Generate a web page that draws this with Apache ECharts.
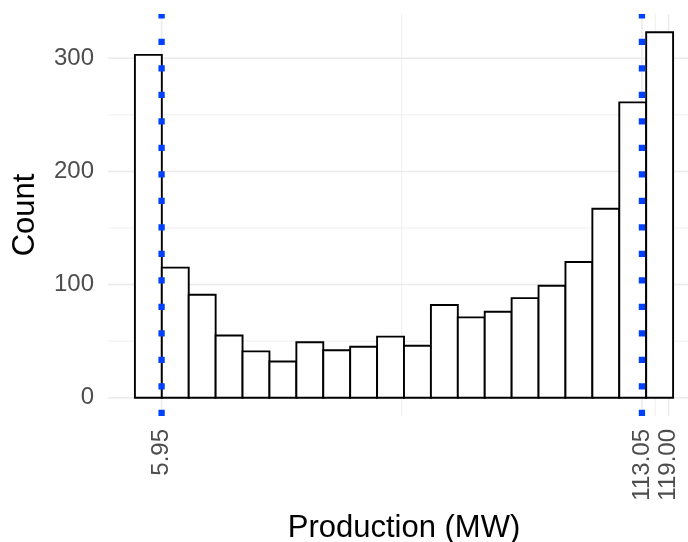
<!DOCTYPE html>
<html>
<head>
<meta charset="utf-8">
<script src="https://cdn.jsdelivr.net/npm/echarts@6/dist/echarts.min.js"></script>
<style>
  html, body { margin: 0; padding: 0; background: #fff; }
  #chart { width: 688px; height: 542px; }
</style>
</head>
<body>
<div id="chart"></div>
<script>
// Histogram of hourly production, bins of 6 MW
const binEdges = [0, 6, 12, 18, 24, 30, 36, 42, 48, 54, 60, 66, 72, 78, 84, 90, 96, 102, 108, 114, 120];
const counts = [303, 115, 91, 55, 41, 32, 49, 42, 45, 54, 46, 82, 71, 76, 88, 99, 120, 167, 261, 323];

// Reference lines (lower / upper thresholds)
const refLines = [5.95, 113.05];

// Tick labels
const xTicks = [5.95, 113.05, 119.00];
const xMinorGrid = [59.5, 116.025];
const yTicks = [0, 100, 200, 300];
const yMinorGrid = [50, 150, 250];

const X_MIN = -6, X_MAX = 126;
const Y_MIN = -16.15, Y_MAX = 339.15;

const FONT = '"Liberation Sans", Arial, sans-serif';
const GRID_COLOR = '#EBEBEB';

function gridLines(values, horizontal, width) {
  return {
    type: 'custom',
    silent: true,
    clip: false,
    z: 1,
    data: values.map(v => horizontal ? [X_MIN, v] : [v, Y_MIN]),
    encode: { x: 0, y: 1 },
    renderItem: function (params, api) {
      const a = api.value(0), b = api.value(1);
      const p1 = horizontal ? api.coord([X_MIN, b]) : api.coord([a, Y_MIN]);
      const p2 = horizontal ? api.coord([X_MAX, b]) : api.coord([a, Y_MAX]);
      return {
        type: 'line',
        shape: { x1: p1[0], y1: p1[1], x2: p2[0], y2: p2[1] },
        style: { stroke: GRID_COLOR, lineWidth: width }
      };
    }
  };
}

const bars = counts.map((c, i) => [binEdges[i], binEdges[i + 1], c]);

const chart = echarts.init(document.getElementById('chart'), null, { renderer: 'canvas' });

chart.setOption({
  animation: false,
  backgroundColor: '#ffffff',
  grid: { left: 108, top: 14, width: 592, height: 402, outerBoundsMode: 'none', containLabel: false },
  xAxis: {
    type: 'value',
    min: X_MIN,
    max: X_MAX,
    name: 'Production (MW)',
    nameLocation: 'middle',
    nameGap: 97,
    nameTextStyle: { fontFamily: FONT, fontSize: 31, color: '#000' },
    axisLine: { show: false },
    axisTick: { show: false },
    splitLine: { show: false },
    axisLabel: {
      customValues: xTicks,
      rotate: 90,
      margin: 13,
      fontFamily: FONT,
      fontSize: 24,
      color: '#4D4D4D',
      formatter: v => v.toFixed(2)
    }
  },
  yAxis: {
    type: 'value',
    min: Y_MIN,
    max: Y_MAX,
    name: 'Count',
    nameLocation: 'middle',
    nameRotate: 90,
    nameGap: 67,
    nameTextStyle: { fontFamily: FONT, fontSize: 31, color: '#000' },
    axisLine: { show: false },
    axisTick: { show: false },
    splitLine: { show: false },
    axisLabel: {
      customValues: yTicks,
      margin: 14,
      fontFamily: FONT,
      fontSize: 24,
      color: '#4D4D4D'
    }
  },
  series: [
    gridLines(yMinorGrid, true, 0.8),
    gridLines(xMinorGrid, false, 0.8),
    gridLines(yTicks, true, 1.5),
    gridLines(xTicks, false, 1.5),
    {
      type: 'custom',
      name: 'Count',
      z: 2,
      data: bars,
      encode: { x: [0, 1], y: 2 },
      renderItem: function (params, api) {
        const lo = api.coord([api.value(0), 0]);
        const hi = api.coord([api.value(1), api.value(2)]);
        return {
          type: 'rect',
          shape: { x: lo[0], y: hi[1], width: hi[0] - lo[0], height: lo[1] - hi[1] },
          style: { fill: '#ffffff', stroke: '#000000', lineWidth: 1.9 }
        };
      }
    },
    {
      type: 'custom',
      name: 'Thresholds',
      z: 3,
      clip: false,
      data: refLines.map(v => [v, Y_MIN]),
      encode: { x: 0, y: 1 },
      renderItem: function (params, api) {
        const x = api.value(0);
        const p1 = api.coord([x, Y_MIN]);
        const p2 = api.coord([x, Y_MAX]);
        return {
          type: 'line',
          shape: { x1: p1[0], y1: p1[1], x2: p2[0], y2: p2[1] },
          style: { stroke: '#0040FF', lineWidth: 6.3, lineDash: [6.3, 20.2], lineCap: 'butt' }
        };
      }
    }
  ]
});
</script>
</body>
</html>
